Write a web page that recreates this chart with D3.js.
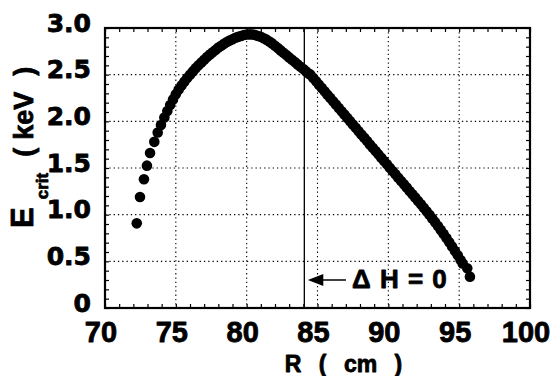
<!DOCTYPE html>
<html>
<head>
<meta charset="utf-8">
<script src="https://cdn.jsdelivr.net/npm/d3@7"></script>
<style>
  html, body { margin: 0; padding: 0; background: #fff; }
  svg { display: block; }
</style>
</head>
<body>
<svg id="chart" width="553" height="376"></svg>
<script>
// ---- data ----
const R_cm = [
  72.24, 72.47, 72.75, 72.96, 73.18, 73.48, 73.72, 73.95, 74.19, 74.40,
  74.60, 74.80, 75.00, 75.20, 75.40, 75.60, 75.80, 76.00, 76.20, 76.40,
  76.60, 76.80, 77.00, 77.20, 77.40, 77.60, 77.80, 78.00, 78.20, 78.40,
  78.60, 78.80, 79.00, 79.20, 79.40, 79.60, 79.80, 80.00, 80.20, 80.40,
  80.60, 80.80, 81.00, 81.20, 81.40, 81.60, 81.80, 82.00, 82.20, 82.40,
  82.60, 82.80, 83.00, 83.20, 83.40, 83.60, 83.80, 84.00, 84.20, 84.40,
  84.50, 84.70, 84.90, 85.10, 85.30, 85.50, 85.70, 85.90, 86.10, 86.30,
  86.50, 86.70, 86.90, 87.10, 87.30, 87.50, 87.70, 87.90, 88.10, 88.30,
  88.50, 88.70, 88.90, 89.10, 89.30, 89.50, 89.70, 89.90, 90.10, 90.30,
  90.50, 90.70, 90.90, 91.10, 91.30, 91.50, 91.70, 91.90, 92.10, 92.30,
  92.50, 92.70, 92.90, 93.10, 93.30, 93.50, 93.70, 93.90, 94.10, 94.30,
  94.50, 94.70, 94.90, 95.10, 95.25, 95.57, 95.76
];
const E_crit_keV = [
  0.907, 1.19, 1.38, 1.525, 1.66, 1.78, 1.88, 1.96, 2.04, 2.11,
  2.175, 2.235, 2.29, 2.34, 2.385, 2.425, 2.465, 2.50, 2.535, 2.57,
  2.60, 2.63, 2.66, 2.69, 2.715, 2.74, 2.765, 2.79, 2.81, 2.83,
  2.85, 2.865, 2.88, 2.895, 2.905, 2.915, 2.925, 2.93, 2.932, 2.93,
  2.925, 2.915, 2.905, 2.89, 2.875, 2.855, 2.835, 2.81, 2.785, 2.76,
  2.735, 2.71, 2.685, 2.66, 2.635, 2.61, 2.585, 2.56, 2.535, 2.51,
  2.500, 2.464, 2.429, 2.393, 2.358, 2.322, 2.286, 2.251, 2.215, 2.180,
  2.144, 2.108, 2.073, 2.037, 2.002, 1.966, 1.930, 1.895, 1.859, 1.824,
  1.788, 1.752, 1.717, 1.681, 1.646, 1.610, 1.574, 1.539, 1.503, 1.468,
  1.432, 1.396, 1.361, 1.325, 1.290, 1.254, 1.218, 1.183, 1.147, 1.111,
  1.074, 1.037, 0.999, 0.960, 0.920, 0.879, 0.837, 0.794, 0.750, 0.705,
  0.659, 0.612, 0.564, 0.515, 0.477, 0.425, 0.336
];
const xMajorTicks = [70, 75, 80, 85, 90, 95, 100];
const xTickLabels = ["70", "75", "80", "85", "90", "95", "100"];
const yMajorTicks = [0, 0.5, 1.0, 1.5, 2.0, 2.5, 3.0];
const yTickLabels = ["0", "0.5", "1.0", "1.5", "2.0", "2.5", "3.0"];
const deltaH0_R = 84.07;   // position of the ΔH = 0 line
const annotation = "Δ H = 0";

// ---- layout ----
const W = 553, H = 376;
const plot = { left: 105, top: 28, right: 530, bottom: 308 };
const x = d3.scaleLinear().domain([70, 100]).range([plot.left, plot.right]);
const y = d3.scaleLinear().domain([0, 3]).range([plot.bottom, plot.top]);

const svg = d3.select("#chart");
svg.append("rect").attr("width", W).attr("height", H).attr("fill", "#fff");

// gridlines (dotted) at inner major ticks
const grid = svg.append("g").attr("stroke", "#000").attr("stroke-width", 1.1)
  .attr("stroke-dasharray", "1.3,3");
grid.selectAll("line.gx").data(xMajorTicks.slice(1, -1)).join("line")
  .attr("x1", d => x(d)).attr("x2", d => x(d))
  .attr("y1", plot.top).attr("y2", plot.bottom);
grid.selectAll("line.gy").data(yMajorTicks.slice(1, -1)).join("line")
  .attr("x1", plot.left).attr("x2", plot.right)
  .attr("y1", d => y(d)).attr("y2", d => y(d));

// minor ticks on all four sides (inward)
const xMinor = d3.range(70, 100.001, 1);
const yMinor = d3.range(0, 3.0001, 0.1);
const tickLen = 4;
const axB = d3.axisBottom(x).tickValues(xMinor).tickSize(-tickLen).tickFormat("");
const axT = d3.axisTop(x).tickValues(xMinor).tickSize(-tickLen).tickFormat("");
const axL = d3.axisLeft(y).tickValues(yMinor).tickSize(-tickLen).tickFormat("");
const axR = d3.axisRight(y).tickValues(yMinor).tickSize(-tickLen).tickFormat("");
[[axB, `translate(0,${plot.bottom})`], [axT, `translate(0,${plot.top})`],
 [axL, `translate(${plot.left},0)`], [axR, `translate(${plot.right},0)`]].forEach(([ax, tr]) => {
  const g = svg.append("g").attr("transform", tr).call(ax);
  g.select(".domain").remove();
  g.selectAll(".tick line").attr("stroke", "#000").attr("stroke-width", 1.2);
});

// frame
svg.append("rect")
  .attr("x", plot.left).attr("y", plot.top)
  .attr("width", plot.right - plot.left).attr("height", plot.bottom - plot.top)
  .attr("fill", "none").attr("stroke", "#000").attr("stroke-width", 2.2);

// ΔH = 0 vertical line
svg.append("line")
  .attr("x1", x(deltaH0_R)).attr("x2", x(deltaH0_R))
  .attr("y1", plot.top).attr("y2", plot.bottom)
  .attr("stroke", "#000").attr("stroke-width", 1.3);

// data points
svg.append("g").selectAll("circle")
  .data(R_cm.map((r, i) => ({ r, e: E_crit_keV[i] })))
  .join("circle")
  .attr("cx", d => x(d.r)).attr("cy", d => y(d.e))
  .attr("r", 5.3).attr("fill", "#000");

const heavy = sel => sel.attr("fill", "#000").attr("stroke", "#000")
  .attr("stroke-width", 0.8).attr("stroke-linejoin", "round");

// tick labels
svg.append("g").selectAll("text").data(xMajorTicks).join("text")
  .attr("x", d => x(d) - 4).attr("y", 341.5)
  .attr("text-anchor", "middle")
  .attr("font-family", "Liberation Sans, Arial, sans-serif")
  .attr("font-weight", "bold").attr("font-size", 29)
  .call(heavy)
  .text((d, i) => xTickLabels[i]);

svg.append("g").selectAll("text").data(yMajorTicks).join("text")
  .attr("x", 91).attr("y", d => y(d) + 3.5)
  .attr("text-anchor", "end")
  .attr("font-family", "DejaVu Sans, sans-serif")
  .attr("font-weight", "bold").attr("font-size", 25)
  .call(heavy)
  .text((d, i) => yTickLabels[i]);

// x axis title
svg.append("text")
  .attr("x", 343.5).attr("y", 371.5)
  .attr("text-anchor", "middle")
  .attr("font-family", "Liberation Sans, Arial, sans-serif")
  .attr("font-weight", "bold").attr("font-size", 23)
  .attr("word-spacing", 11)
  .call(heavy)
  .text("R ( cm )");

// y axis title
const yt = svg.append("text")
  .attr("transform", "translate(33,228) rotate(-90)")
  .attr("font-family", "Liberation Sans, Arial, sans-serif")
  .attr("font-weight", "bold")
  .call(heavy);
yt.append("tspan").attr("font-size", 31).text("E");
yt.append("tspan").attr("font-size", 17).attr("dy", 15).attr("dx", 8).text("crit");
yt.append("tspan").attr("font-size", 27).attr("dy", -15).attr("dx", 16).text("(");
yt.append("tspan").attr("font-size", 27).attr("dx", 8).text("keV");
yt.append("tspan").attr("font-size", 27).attr("dx", 16).text(")");

// arrow annotation
const ay = 280;
svg.append("line")
  .attr("x1", x(deltaH0_R) + 17).attr("x2", 346)
  .attr("y1", ay).attr("y2", ay)
  .attr("stroke", "#000").attr("stroke-width", 1.5);
svg.append("path")
  .attr("d", d3.line()([[x(deltaH0_R) + 3.5, ay], [x(deltaH0_R) + 19, ay - 6], [x(deltaH0_R) + 19, ay + 6]]) + "Z")
  .attr("fill", "#000");
svg.append("text")
  .attr("x", 352).attr("y", 287.5)
  .attr("font-family", "Liberation Sans, Arial, sans-serif")
  .attr("font-weight", "bold").attr("font-size", 26)
  .attr("word-spacing", 2)
  .call(heavy)
  .text(annotation);
</script>
</body>
</html>
